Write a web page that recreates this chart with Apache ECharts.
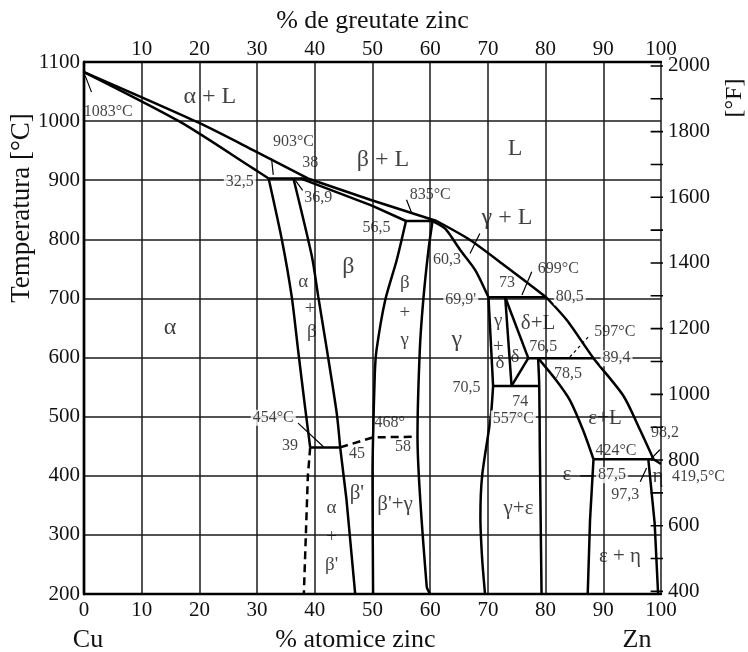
<!DOCTYPE html>
<html>
<head>
<meta charset="utf-8">
<script src="https://cdn.jsdelivr.net/npm/echarts@6/dist/echarts.min.js"></script>
<style>
  html, body { margin: 0; padding: 0; background: #fff; }
  #chart { width: 748px; height: 652px; }
</style>
</head>
<body>
<div id="chart"></div>
<script>
// diagrama Cu-Zn: x = % atomice zinc, y = temperatura in °C
const fahrenheitLabels = [400, 600, 800, 1000, 1200, 1400, 1600, 1800, 2000];
const fahrenheitTicks = [400, 500, 600, 700, 800, 900, 1000, 1100, 1200, 1300, 1400, 1500, 1600, 1700, 1800, 1900, 2000];

// curbe de echilibru [zinc, temp]
const liquidusAlpha = [[0, 1083], [19.5, 999], [29.3, 951], [38.8, 903]];
const solidusAlpha = [[0, 1083], [16.6, 999], [29.3, 920], [32.0, 903]];
const peritectic903 = [[32.0, 903], [38.8, 903]];
const liquidusBeta = [[38.8, 903], [49.6, 867], [61.1, 831]];
const solidusBeta = [[37.5, 903], [49.9, 857], [55.8, 831]];
const alphaLimit = [[32.0, 903], [34.3, 799], [36.0, 703], [37.1, 613], [38.3, 517], [39.2, 448]];
const betaLimitLeft = [[36.3, 903], [39.5, 771], [40.6, 703], [42.1, 613], [43.8, 506], [44.4, 448]];
const alphaLimitLow = [[39.2, 448], [38.8, 400], [38.1, 200]];
const eutectoid454 = [[39.2, 448], [44.4, 448]];
const ordering468 = [[44.4, 448], [50.1, 465], [57.7, 466]];
const betaPrimeLeft = [[44.4, 448], [45.5, 359], [47.0, 200]];
const betaLimitRight = [[55.8, 831], [54.2, 765], [52.2, 697], [50.7, 613], [50.4, 573], [50.1, 465], [50.0, 404], [50.1, 200]];
const gammaLimitLeft = [[60.4, 831], [59.7, 782], [58.8, 697], [58.2, 613], [57.8, 466], [59.4, 212], [60.0, 200]];
const peritectic835 = [[55.8, 831], [61.1, 831]];
const liquidusGamma = [[61.1, 831], [66.9, 799], [73.0, 755], [80.1, 702]];
const solidusGamma = [[60.4, 831], [62.6, 818], [65.2, 782], [67.8, 748], [70.1, 702]];
const peritectic699 = [[70.1, 702], [80.1, 702]];
const gammaDeltaLeft = [[70.1, 702], [70.9, 552]];
const deltaLimitLeft = [[73.0, 702], [74.1, 552]];
const solidusDelta = [[73.0, 702], [77.0, 599]];
const deltaLimitRight = [[74.1, 552], [77.0, 599]];
const peritectic597 = [[77.0, 599], [88.3, 599]];
const eutectoid557 = [[70.9, 552], [78.9, 552]];
const epsilonLimitLeft = [[78.7, 599], [78.9, 552], [79.0, 444], [79.3, 200]];
const gammaLimitRight = [[70.9, 552], [70.5, 500], [69.0, 400], [68.7, 330], [69.0, 260], [69.5, 200]];
const liquidusEpsilon = [[80.1, 702], [83.7, 663], [88.3, 599], [93.5, 535], [96.4, 477], [98.7, 428]];
const solidusEpsilon = [[78.7, 599], [81.8, 562], [84.2, 528], [86.5, 477], [88.3, 428]];
const eutectic424 = [[88.3, 428], [98.7, 428]];
const epsilonLimitRight = [[88.3, 428], [87.7, 325], [87.3, 200]];
const etaLimit = [[97.8, 428], [98.9, 320], [99.5, 200]];
const liquidusZinc = [[98.7, 428], [100, 420]];

// linii ajutatoare catre etichete
const leaders = [
  [[0.2, 1077], [1.3, 1049]], [[32.5, 937], [32.8, 909]], [[36.6, 900], [37.9, 883]],
  [[55.9, 867], [56.8, 844]], [[66.9, 776], [68.6, 810]], [[75.9, 706], [77.6, 745]],
  [[37.1, 489], [41.5, 449]], [[98.4, 430], [99.8, 444]], [[96.4, 390], [97.5, 413]],
  [[86.0, 400], [88.2, 400]]
];
const leader597 = [[84.2, 601], [87.4, 635]];

// etichete de faza [zinc, temp, text]
const bigLabels = [
  [21.8, 1041, 'α + L'], [51.8, 934, 'β + L'], [74.7, 954, 'L'], [73.3, 836, 'γ + L'],
  [45.8, 754, 'β'], [14.9, 650, 'α'], [64.6, 630, 'γ']
];
const midLabels = [
  [78.7, 658, 'δ+L'], [90.3, 497, 'ε+L'], [75.3, 345, 'γ+ε'], [53.9, 351, "β'+γ"],
  [92.9, 263, 'ε + η'], [47.3, 370, "β'"], [83.7, 403, 'ε'], [99.5, 398, 'η']
];
const stackLabels = [
  [38.0, 728, 'α'], [39.2, 682, '+'], [39.5, 644, 'β'],
  [55.6, 726, 'β'], [55.6, 675, '+'], [55.6, 630, 'γ'],
  [71.8, 661, 'γ'], [71.8, 618, '+'], [72.1, 590, 'δ'], [74.7, 601, 'δ'],
  [42.9, 345, 'α'], [42.9, 297, '+'], [42.9, 249, "β'"]
];
const numberLabels = [
  [4.2, 1016, '1083°C'], [36.3, 965, '903°C'], [39.2, 929, '38'],
  [40.6, 870, '36,9'], [60.0, 875, '835°C'], [50.7, 820, '56,5'], [62.9, 765, '60,3'],
  [73.3, 726, '73'], [82.2, 751, '699°C'],
  [79.6, 618, '76,5'], [92.0, 644, '597°C'], [83.9, 573, '78,5'],
  [66.3, 548, '70,5'], [75.6, 525, '74'], [100.7, 472, '98,2'],
  [92.2, 442, '424°C'], [93.8, 367, '97,3'], [106.5, 398, '419,5°C'],
  [35.7, 450, '39'], [47.3, 437, '45'], [53.0, 489, '468°'], [55.3, 449, '58']
];
// etichete asezate peste liniile de grila
const gridNotes = [
  [27.0, 897, '32,5'], [84.2, 702, '80,5'], [65.3, 698, "69,9'"], [92.3, 599, '89,4'],
  [74.4, 497, '557°C'], [91.5, 401, '87,5'], [32.8, 498, '454°C']
];

const solidCurves = [
  liquidusAlpha, solidusAlpha, peritectic903, liquidusBeta, solidusBeta, alphaLimit, betaLimitLeft,
  eutectoid454, betaPrimeLeft, betaLimitRight, gammaLimitLeft, peritectic835, liquidusGamma,
  solidusGamma, peritectic699, gammaDeltaLeft, deltaLimitLeft, solidusDelta, deltaLimitRight,
  peritectic597, eutectoid557, epsilonLimitLeft, gammaLimitRight, liquidusEpsilon, solidusEpsilon,
  eutectic424, epsilonLimitRight, etaLimit, liquidusZinc
];
const dashedCurves = [alphaLimitLow, ordering468];

const serif = 'Liberation Serif';
const ink = '#111';
const plain = v => String(v);

function curve(data, type) {
  return {
    type: 'line', data: data, symbol: 'none', silent: true, animation: false,
    smooth: data.length > 3 ? 0.25 : false,
    lineStyle: { color: '#000', width: 2.5, type: type || 'solid' },
    z: 3
  };
}

function labels(list, size, bg) {
  return {
    type: 'scatter', data: list, symbolSize: 0, silent: true, animation: false, clip: false,
    label: {
      show: true, position: 'inside', formatter: p => p.value[2],
      fontFamily: serif, fontSize: size, color: ink,
      backgroundColor: bg || 'transparent', padding: bg ? [0, 2] : 0
    },
    z: 5
  };
}

// liniute scala °F pe marginea din dreapta
const fahrenheitMarks = {
  type: 'line', yAxisIndex: 1, symbol: 'none', silent: true, animation: false, clip: false,
  data: fahrenheitTicks.flatMap(f => [[98.2, f], [100.4, f], '-']),
  lineStyle: { color: '#000', width: 1.6 }, z: 4
};

const series = solidCurves.map(c => curve(c))
  .concat(dashedCurves.map(c => curve(c, [8, 5])))
  .concat([{
    type: 'line', data: leaders.flatMap(s => [s[0], s[1], '-']), symbol: 'none', silent: true,
    animation: false, lineStyle: { color: '#000', width: 1.2 }, z: 3
  }, {
    type: 'line', data: leader597, symbol: 'none', silent: true, animation: false,
    lineStyle: { color: '#000', width: 1.2, type: [3, 3] }, z: 3
  }, fahrenheitMarks])
  .concat([
    labels(bigLabels, 24), labels(midLabels, 21), labels(stackLabels, 19),
    labels(numberLabels, 16), labels(gridNotes, 16, '#fff')
  ]);

const chart = echarts.init(document.getElementById('chart'));
chart.setOption({
  backgroundColor: '#fff',
  animation: false,
  textStyle: { fontFamily: serif },
  grid: { left: 84, right: 87, top: 62, bottom: 58, outerBoundsMode: 'none', containLabel: false },
  xAxis: [
    {
      type: 'value', position: 'bottom', min: 0, max: 100, interval: 10,
      name: '% atomice zinc', nameLocation: 'middle', nameGap: 33,
      nameTextStyle: { fontFamily: serif, fontSize: 26, color: ink, padding: [0, 34, 0, 0] },
      axisLine: { lineStyle: { color: '#000', width: 2.4 } },
      axisTick: { show: false },
      axisLabel: { fontFamily: serif, fontSize: 21, color: ink, margin: 6, formatter: plain },
      splitLine: { show: true, lineStyle: { color: '#1a1a1a', width: 1.5 } }
    },
    {
      type: 'value', position: 'top', min: 0, max: 100, interval: 10,
      name: '% de greutate zinc', nameLocation: 'middle', nameGap: 24,
      nameTextStyle: { fontFamily: serif, fontSize: 26, color: ink },
      axisLine: { lineStyle: { color: '#000', width: 2.4 } },
      axisTick: { show: false },
      axisLabel: { fontFamily: serif, fontSize: 21, color: ink, margin: 2, formatter: v => v === 0 ? '' : String(v) },
      splitLine: { show: false }
    }
  ],
  yAxis: [
    {
      type: 'value', position: 'left', min: 200, max: 1100, interval: 100,
      axisLine: { show: true, lineStyle: { color: '#000', width: 2.4 } },
      axisTick: { show: false },
      axisLabel: { fontFamily: serif, fontSize: 21, color: ink, margin: 4, formatter: plain },
      splitLine: { show: true, lineStyle: { color: '#1a1a1a', width: 1.5 } }
    },
    {
      type: 'value', position: 'right', min: 200 * 1.8 + 32, max: 1100 * 1.8 + 32,
      axisLine: { show: true, lineStyle: { color: '#000', width: 2.4 } },
      axisTick: { show: false },
      axisLabel: { fontFamily: serif, fontSize: 21, color: ink, margin: 7, customValues: fahrenheitLabels, formatter: plain },
      splitLine: { show: false }
    }
  ],
  graphic: [
    { type: 'text', x: 22, y: 208, rotation: Math.PI / 2,
      style: { text: 'Temperatura [°C]', font: '27px "Liberation Serif"', fill: ink, align: 'center', verticalAlign: 'middle' } },
    { type: 'text', x: 88, y: 640, style: { text: 'Cu', font: '26px "Liberation Serif"', fill: ink, align: 'center', verticalAlign: 'middle' } },
    { type: 'text', x: 637, y: 640, style: { text: 'Zn', font: '26px "Liberation Serif"', fill: ink, align: 'center', verticalAlign: 'middle' } },
    { type: 'text', x: 735, y: 98, rotation: Math.PI / 2,
      style: { text: '[°F]', font: '24px "Liberation Serif"', fill: ink, align: 'center', verticalAlign: 'middle' } }
  ],
  series: series
});
</script>
</body>
</html>
